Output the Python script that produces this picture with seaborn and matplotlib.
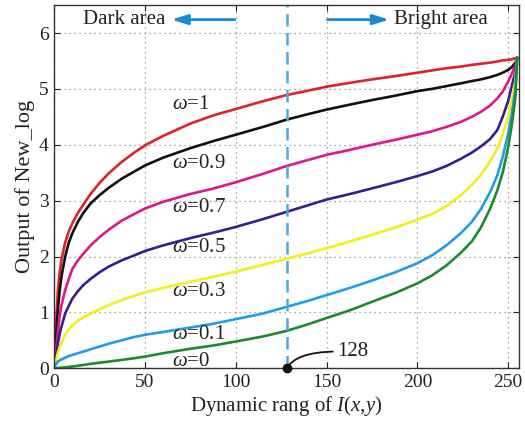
import matplotlib
matplotlib.use("Agg")
import matplotlib.pyplot as plt
import seaborn as sns
import pandas as pd

# Input grey level samples shared by all curves
x_levels = [0, 1, 2, 3, 4, 6, 8, 10, 13, 16, 20, 25, 30, 37, 44, 50, 60, 75, 88, 100,
            115, 128, 140, 150, 163, 175, 188, 200, 208, 216, 224, 230, 235, 240, 244,
            247, 250, 252, 254, 255]

# New_log output for each weight omega
y_w10 = [0, 0.8, 1.4, 1.72, 1.95, 2.25, 2.45, 2.6, 2.78, 2.93, 3.12, 3.32, 3.49, 3.69,
         3.86, 3.99, 4.16, 4.38, 4.53, 4.64, 4.78, 4.89, 4.97, 5.04, 5.11, 5.17, 5.23,
         5.29, 5.33, 5.37, 5.40, 5.43, 5.45, 5.47, 5.49, 5.51, 5.52, 5.53, 5.55, 5.56]
y_w09 = [0, 0.55, 1.05, 1.4, 1.65, 2.0, 2.25, 2.42, 2.62, 2.78, 2.95, 3.1, 3.23, 3.39,
         3.52, 3.63, 3.77, 3.94, 4.07, 4.18, 4.32, 4.45, 4.55, 4.63, 4.72, 4.8, 4.88,
         4.96, 5.0, 5.05, 5.1, 5.14, 5.17, 5.21, 5.25, 5.29, 5.34, 5.39, 5.47, 5.56]
y_w07 = [0, 0.35, 0.65, 0.95, 1.13, 1.4, 1.6, 1.78, 1.93, 2.05, 2.2, 2.35, 2.48, 2.64,
         2.76, 2.86, 2.98, 3.12, 3.22, 3.33, 3.48, 3.62, 3.73, 3.82, 3.91, 4.0, 4.09,
         4.18, 4.24, 4.32, 4.41, 4.5, 4.59, 4.7, 4.83, 4.95, 5.13, 5.27, 5.42, 5.56]
y_w05 = [0, 0.25, 0.45, 0.62, 0.75, 0.98, 1.12, 1.25, 1.38, 1.49, 1.6, 1.72, 1.82,
         1.93, 2.02, 2.1, 2.2, 2.33, 2.43, 2.53, 2.67, 2.8, 2.92, 3.02, 3.12, 3.22,
         3.33, 3.44, 3.52, 3.62, 3.75, 3.86, 3.97, 4.1, 4.26, 4.5, 4.78, 5.05, 5.3, 5.56]
y_w03 = [0, 0.15, 0.28, 0.38, 0.46, 0.6, 0.7, 0.77, 0.85, 0.91, 0.98, 1.06, 1.13,
         1.22, 1.3, 1.36, 1.44, 1.55, 1.64, 1.73, 1.85, 1.96, 2.06, 2.15, 2.27, 2.39,
         2.52, 2.66, 2.76, 2.9, 3.1, 3.28, 3.46, 3.7, 3.93, 4.18, 4.5, 4.8, 5.15, 5.56]
y_w01 = [0, 0.08, 0.12, 0.14, 0.16, 0.19, 0.22, 0.24, 0.27, 0.3, 0.34, 0.39, 0.44,
         0.5, 0.56, 0.6, 0.65, 0.73, 0.8, 0.88, 0.98, 1.1, 1.21, 1.31, 1.44, 1.57,
         1.72, 1.88, 2.02, 2.2, 2.42, 2.62, 2.85, 3.15, 3.45, 3.78, 4.2, 4.55, 5.0, 5.56]
y_w00 = [0, 0, 0.005, 0.01, 0.012, 0.018, 0.025, 0.032, 0.045, 0.06, 0.08, 0.1, 0.12,
         0.15, 0.18, 0.21, 0.27, 0.35, 0.41, 0.48, 0.57, 0.67, 0.79, 0.9, 1.04, 1.19,
         1.35, 1.52, 1.66, 1.84, 2.07, 2.27, 2.52, 2.85, 3.18, 3.5, 3.95, 4.35, 4.85, 5.56]

weights = ["1", "0.9", "0.7", "0.5", "0.3", "0.1", "0"]
series = [y_w10, y_w09, y_w07, y_w05, y_w03, y_w01, y_w00]
colors = ["#e0202a", "#111111", "#e0178c", "#3b1c8f", "#f4ee1a", "#1f9de8", "#1b8c2e"]
label_y = [4.72, 3.67, 2.88, 2.16, 1.37, 0.61, 0.13]

x_ticks = [0, 50, 100, 150, 200, 250]
y_ticks = [0, 1, 2, 3, 4, 5, 6]
split_level = 128

sns.set_theme(style="ticks")
plt.rcParams["font.family"] = ["Liberation Serif", "DejaVu Serif"]
plt.rcParams["mathtext.fontset"] = "custom"
plt.rcParams["mathtext.rm"] = "Liberation Serif"
plt.rcParams["mathtext.it"] = "Liberation Serif:italic"

frames = [pd.DataFrame({"level": x_levels, "out": ys, "w": w})
          for w, ys in zip(weights, series)]
data = pd.concat(frames, ignore_index=True)

fig = plt.figure(figsize=(5.25, 4.23), dpi=100)
ax = fig.add_axes([0.1034, 0.1293, 0.8852, 0.8587])

ax.grid(True, color="#8a8a8a", linestyle=(0, (1, 3)), linewidth=0.9)
ax.set_axisbelow(True)

sns.lineplot(data=data, x="level", y="out", hue="w", hue_order=weights,
             palette=dict(zip(weights, colors)), estimator=None, sort=True,
             linewidth=1.9, legend=False, ax=ax)

ax.axvline(split_level, color="#4fa9df", linewidth=1.8, linestyle=(0, (5, 2.6)))

ax.set_xlim(0, 256)
ax.set_ylim(0, 6.5)
ax.set_xticks(x_ticks)
ax.set_yticks(y_ticks)
ax.tick_params(direction="in", top=True, right=True, length=4, width=0.8,
               labelsize=14, colors="#222222", pad=4)
for s in ax.spines.values():
    s.set_color("#333333")
    s.set_linewidth(1.0)

ax.set_xlabel("Dynamic rang of $I$($x$,$y$)", fontsize=15, color="#222222", labelpad=2)
ax.set_ylabel("Output of New_log", fontsize=16, color="#222222", labelpad=3)

for w, yl in zip(weights, label_y):
    ax.text(65, yl, r"$\omega$=" + w, fontsize=15, color="#222222",
            ha="left", va="center")

# region labels with arrows
arrow_c = "#1b8ad6"
ax.text(16, 6.24, "Dark area", fontsize=15, color="#222222", ha="left", va="center")
ax.annotate("", xy=(63, 6.24), xytext=(101, 6.24),
            arrowprops=dict(arrowstyle="-|>,head_length=0.8,head_width=0.25",
                            color=arrow_c, lw=2))
ax.text(187, 6.24, "Bright area", fontsize=15, color="#222222", ha="left", va="center")
ax.annotate("", xy=(186, 6.24), xytext=(149, 6.24),
            arrowprops=dict(arrowstyle="-|>,head_length=0.8,head_width=0.25",
                            color=arrow_c, lw=2))

# marker for the split level
ax.plot([split_level], [0], "o", color="#111111", markersize=6, clip_on=False, zorder=5)
ax.annotate(str(split_level), xy=(split_level, 0), xytext=(156, 0.3),
            fontsize=15, color="#222222", ha="left", va="center",
            arrowprops=dict(arrowstyle="-", color="#111111", lw=1.3,
                            connectionstyle="angle3,angleA=0,angleB=60",
                            relpos=(0, 0.5), shrinkA=1, shrinkB=0))

fig.savefig("out.png", dpi=100)
